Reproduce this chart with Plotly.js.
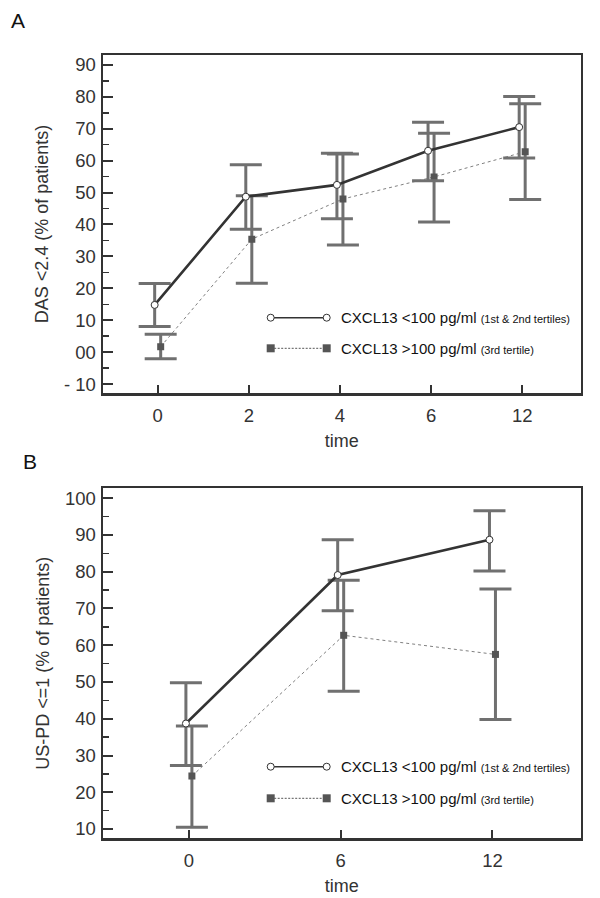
<!DOCTYPE html>
<html>
<head>
<meta charset="utf-8">
<script src="https://cdn.plot.ly/plotly-3.0.1.min.js"></script>
<style>body{margin:0;background:#fff}#myPlot{width:600px;height:898px}</style>
</head>
<body>
<div id="myPlot"></div>
<script>
// Panel A: DAS <2.4
var timesA = ['0', '2', '4', '6', '12'];
var lowA = [14.8, 48.7, 52.4, 63.1, 70.5];
var lowAUpper = [21.5, 58.7, 62.3, 72.0, 80.1];
var lowALower = [8.0, 38.5, 41.8, 53.7, 60.8];
var highA = [1.7, 35.4, 48.0, 54.9, 62.8];
var highAUpper = [5.6, 49.0, 62.1, 68.6, 77.8];
var highALower = [-2.1, 21.6, 33.6, 40.8, 47.8];

// Panel B: US-PD <=1
var timesB = ['0', '6', '12'];
var lowB = [38.7, 79.1, 88.7];
var lowBUpper = [49.8, 88.7, 96.6];
var lowBLower = [27.3, 69.4, 80.2];
var highB = [24.4, 62.7, 57.5];
var highBUpper = [38.0, 77.7, 75.3];
var highBLower = [10.5, 47.5, 39.8];

var yTicksA = [-10, 0, 10, 20, 30, 40, 50, 60, 70, 80, 90];
var yTextA = ['- 10', '00', '10', '20', '30', '40', '50', '60', '70', '80', '90'];
var yTicksB = [10, 20, 30, 40, 50, 60, 70, 80, 90, 100];

var legendLow = 'CXCL13 &lt;100 pg/ml <span style="font-size:11px">(1st &amp; 2nd tertiles)</span>';
var legendHigh = 'CXCL13 &gt;100 pg/ml <span style="font-size:11px">(3rd tertile)</span>';

var W = 600, H = 898;
function px(x) { return x / W; }
function py(y) { return 1 - y / H; }

var ink = '#333333';
var errColor = '#707070';

function idx(arr, shift) { return arr.map(function (_, i) { return i + shift; }); }
function diff(a, b) { return a.map(function (v, i) { return +(v - b[i]).toFixed(2); }); }

function series(vals, upper, lower, shift, isLow, xa, ya) {
  return {
    x: idx(vals, shift), y: vals, xaxis: xa, yaxis: ya,
    type: 'scatter', mode: 'lines+markers', showlegend: false, hoverinfo: 'y',
    line: isLow ? {color: ink, width: 2.6} : {color: '#808080', width: 1, dash: 'dot'},
    marker: isLow
      ? {symbol: 'circle', size: 7, color: '#ffffff', line: {color: ink, width: 1}}
      : {symbol: 'square', size: 7, color: '#555555', line: {width: 0}},
    error_y: {type: 'data', symmetric: false, array: diff(upper, vals), arrayminus: diff(vals, lower),
      color: errColor, thickness: 3, width: 16}
  };
}

var offA = 3 / 91, offB = 3 / 152;
var data = [
  series(highA, highAUpper, highALower, offA, false, 'x', 'y'),
  series(lowA, lowAUpper, lowALower, -offA, true, 'x', 'y'),
  series(highB, highBUpper, highBLower, offB, false, 'x2', 'y2'),
  series(lowB, lowBUpper, lowBLower, -offB, true, 'x2', 'y2')
];

var tickFont = {family: 'Liberation Sans, Arial, sans-serif', size: 18.5, color: ink};
var titleFont = {family: 'Liberation Sans, Arial, sans-serif', size: 18, color: ink};

function xAxis(labels, range, anchor) {
  return {
    domain: [px(103), px(580.5)], anchor: anchor, range: range,
    tickmode: 'array', tickvals: labels.map(function (_, i) { return i; }), ticktext: labels,
    ticks: 'inside', ticklen: 8, tickwidth: 2, tickcolor: ink,
    showline: true, linewidth: 2.5, linecolor: ink, mirror: true,
    showgrid: false, zeroline: false, tickfont: tickFont, ticklabelstandoff: 4,
    title: {text: 'time', font: titleFont, standoff: 10}
  };
}
function yAxis(vals, text, range, domain, anchor, title) {
  return {
    domain: domain, anchor: anchor, range: range,
    tickmode: 'array', tickvals: vals, ticktext: text,
    ticks: 'inside', ticklen: 10, tickwidth: 2, tickcolor: ink,
    minor: {dtick: 5, tick0: 0, ticks: 'inside', ticklen: 6, tickwidth: 1.5, tickcolor: ink},
    showline: true, linewidth: 2.5, linecolor: ink, mirror: true,
    showgrid: false, zeroline: false, tickfont: tickFont, ticklabelstandoff: 1,
    title: {text: title, font: titleFont, standoff: 11}
  };
}

var shapes = [];
var annotations = [];
function legend(y1, y2) {
  var xl = 270.7, xr = 326.7;
  shapes.push({type: 'line', xref: 'paper', yref: 'paper', x0: px(xl), x1: px(xr), y0: py(y1), y1: py(y1),
    line: {color: ink, width: 1.4}});
  shapes.push({type: 'line', xref: 'paper', yref: 'paper', x0: px(xl), x1: px(xr), y0: py(y2), y1: py(y2),
    line: {color: '#555555', width: 1, dash: '2px,1.5px'}});
  [xl, xr].forEach(function (x) {
    shapes.push({type: 'circle', xref: 'paper', yref: 'paper', xsizemode: 'pixel', ysizemode: 'pixel',
      xanchor: px(x), yanchor: py(y1), x0: -3.5, x1: 3.5, y0: -3.5, y1: 3.5,
      fillcolor: '#ffffff', line: {color: ink, width: 1}});
    shapes.push({type: 'rect', xref: 'paper', yref: 'paper', xsizemode: 'pixel', ysizemode: 'pixel',
      xanchor: px(x), yanchor: py(y2), x0: -4, x1: 4, y0: -4, y1: 4,
      fillcolor: '#555555', line: {width: 0}});
  });
  var f = {family: 'Liberation Sans, Arial, sans-serif', size: 15, color: '#111'};
  annotations.push({xref: 'paper', yref: 'paper', x: px(339), y: py(y1), xanchor: 'left', yanchor: 'middle',
    text: legendLow, showarrow: false, font: f});
  annotations.push({xref: 'paper', yref: 'paper', x: px(339), y: py(y2), xanchor: 'left', yanchor: 'middle',
    text: legendHigh, showarrow: false, font: f});
}
legend(317.7, 348.3);
legend(766.7, 798.3);

var panelFont = {family: 'Liberation Sans, Arial, sans-serif', size: 21, color: '#111'};
annotations.push({xref: 'paper', yref: 'paper', x: px(17.5), y: py(20), xanchor: 'center', yanchor: 'middle',
  text: 'A', showarrow: false, font: panelFont});
annotations.push({xref: 'paper', yref: 'paper', x: px(30), y: py(462), xanchor: 'center', yanchor: 'middle',
  text: 'B', showarrow: false, font: panelFont});

var layout = {
  width: W, height: H,
  margin: {l: 0, r: 0, t: 0, b: 0},
  paper_bgcolor: '#ffffff', plot_bgcolor: '#ffffff',
  showlegend: false,
  xaxis: xAxis(timesA, [-0.6, 4.64], 'y'),
  yaxis: yAxis(yTicksA, yTextA, [-12.8, 93.1], [py(393), py(55)], 'x', 'DAS &lt;2.4 (% of patients)'),
  xaxis2: xAxis(timesB, [-0.566, 2.58], 'y2'),
  yaxis2: yAxis(yTicksB, yTicksB.map(String), [7.47, 102.7], [py(838.3), py(488.3)], 'x2', 'US-PD &lt;=1 (% of patients)'),
  shapes: shapes,
  annotations: annotations
};

Plotly.newPlot('myPlot', data, layout, {staticPlot: true});
</script>
</body>
</html>
